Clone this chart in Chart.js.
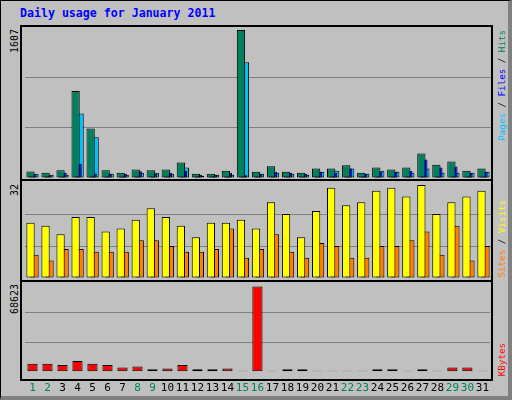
<!DOCTYPE html>
<html><head><meta charset="utf-8">
<script src="https://cdn.jsdelivr.net/npm/chart.js@4/dist/chart.umd.min.js"></script>
<style>
body{margin:0;background:#fff}
#root{position:absolute;left:0;top:0;width:507px;height:395px;background:#C0C0C0;border:1px solid #000;border-right:4px solid #808080;border-bottom:4px solid #808080;overflow:hidden;font-family:"DejaVu Sans Mono",monospace}
.abs{position:absolute}
.v{position:absolute;writing-mode:vertical-rl;transform:rotate(180deg);white-space:nowrap;line-height:1}
.hl{position:absolute;background:#000;height:2px;left:20px;width:472px}
</style></head><body>
<div id="root">
  <div class="abs" style="left:19px;top:5px;color:#0000FF;font-weight:bold;font-size:11.6px">Daily usage for January 2011</div>
  <div class="abs" style="left:19px;top:24px;width:469px;height:352px;border:2px solid #000"></div>
  <div class="hl" style="top:178px"></div><div class="hl" style="top:279px"></div>
  <div class="abs" style="left:24px;top:26px;width:466px;height:151px"><canvas id="c1"></canvas></div>
  <div class="abs" style="left:24px;top:181px;width:466px;height:96px"><canvas id="c2"></canvas></div>
  <div class="abs" style="left:24px;top:282px;width:466px;height:114px"><canvas id="c3"></canvas></div>
  <div class="v" style="left:9px;top:28px;font-size:10px">1607</div>
  <div class="v" style="left:9px;top:183px;font-size:10px">32</div>
  <div class="v" style="left:9px;top:283px;font-size:10px">68623</div>
  <div class="v" style="left:496px;top:29px;font-size:9.2px"><span style="color:#00C0FF">Pages</span> / <span style="color:#0000FF">Files</span> / <span style="color:#00805C">Hits</span></div>
  <div class="v" style="left:496px;top:199px;font-size:9.2px"><span style="color:#FF8000">Sites</span> / <span style="color:#FFFF00">Visits</span></div>
  <div class="v" style="left:496px;top:342px;font-size:9.2px;color:#FF0000">KBytes</div>
</div>
<script>
const days=[...Array(31)].map((_,i)=>String(i+1));
const weekend=[1,2,8,9,15,16,22,23,29,30];
const hits=[70,58,84,945,537,84,58,91,84,91,167,47,47,80,1607,69,127,69,58,102,102,138,58,113,91,113,265,145,178,80,102];
const files=[40,30,58,156,50,47,47,73,47,58,80,36,36,58,29,47,69,58,47,69,58,102,47,69,69,80,200,113,124,58,69];
const pages=[47,36,36,701,443,47,36,58,58,47,113,25,36,36,1257,47,58,47,36,69,80,102,47,80,69,58,102,58,58,58,69];
const visits=[19,18,15,21,21,16,17,20,24,21,18,14,19,19,20,17,26,22,14,23,31,25,26,30,31,28,32,22,26,28,30];
const sites=[8,6,10,10,9,9,9,13,13,11,9,9,10,17,7,10,15,9,7,12,11,7,7,11,11,13,16,8,18,6,11];
const kbytes=[6510,6510,5500,8760,6510,5500,3500,4260,2000,2750,5500,2000,2000,2750,500,68623,500,2000,2000,500,500,500,500,2000,2000,500,2000,500,3500,3500,500];

const shift={id:'shift',
  beforeDatasetDraw(chart,args){const o=chart.data.datasets[args.index].shiftPx||0;chart.ctx.save();chart.ctx.translate(o,0);},
  afterDatasetDraw(chart){chart.ctx.restore();}};
function yScale(max){return {min:0,max:max,ticks:{display:false,stepSize:max/3},border:{display:false},
  grid:{drawTicks:false,color:c=>(c.tick&&c.tick.value>0&&c.tick.value<max-1e-6)?'#808080':'rgba(0,0,0,0)',lineWidth:1}};}
function ds(data,color,sh){return {data,shiftPx:sh,backgroundColor:color,borderColor:'#000',borderWidth:1,borderSkipped:false,minBarLength:1};}
function make(id,sets,max,bp,showX){
  return new Chart(document.getElementById(id),{type:'bar',plugins:[shift],
    data:{labels:days,datasets:sets},
    options:{responsive:true,maintainAspectRatio:false,animation:false,
      grouped:false,categoryPercentage:1,barPercentage:bp,
      layout:{padding:0},
      plugins:{legend:{display:false},tooltip:{enabled:false}},
      scales:{x:{display:showX,grid:{display:false},border:{display:false},
        ticks:{padding:2,autoSkip:false,maxRotation:0,font:{family:'DejaVu Sans Mono',size:11},
          color:c=>weekend.includes(c.index+1)?'#00805C':'#000'}},
        y:yScale(max)}}});
}
make('c1',[ds(hits,'#00805C',-2),ds(files,'#0000FF',0),ds(pages,'#00C0FF',2)],1640,0.55,false);
make('c2',[ds(visits,'#FFFF00',-2),ds(sites,'#FF8000',2)],33,0.55,false);
make('c3',[ds(kbytes,'#FF0000',0)],71400,0.68,true);
</script></body></html>
